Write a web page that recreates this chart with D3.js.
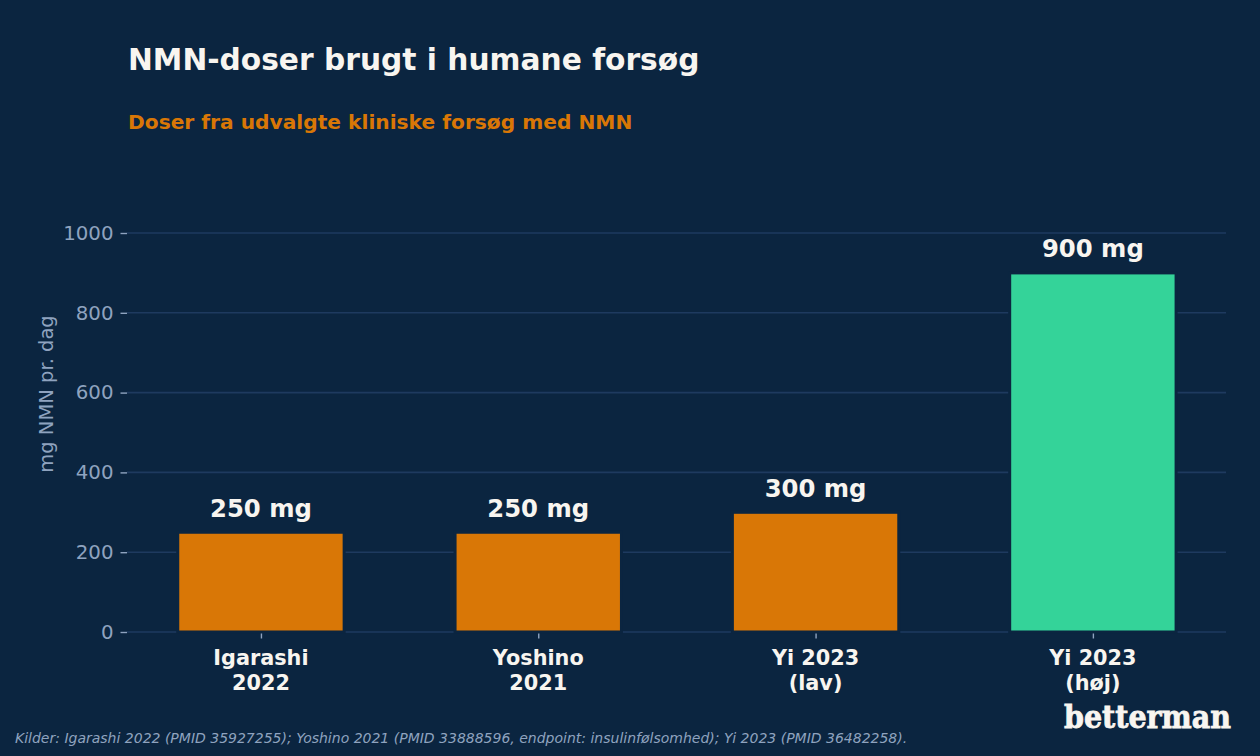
<!DOCTYPE html>
<html>
<head>
<meta charset="utf-8">
<script src="https://cdn.jsdelivr.net/npm/d3@7"></script>
<style>
  html, body { margin: 0; padding: 0; background: #0b2540; }
  svg { display: block; }
</style>
</head>
<body>
<svg id="chart" width="1260" height="756"></svg>
<script>
const categories = [["Igarashi", "2022"], ["Yoshino", "2021"], ["Yi 2023", "(lav)"], ["Yi 2023", "(høj)"]];
const values = [250, 250, 300, 900];
const valueLabels = ["250 mg", "250 mg", "300 mg", "900 mg"];
const highlight = [false, false, false, true];
const yTicks = [0, 200, 400, 600, 800, 1000];

const W = 1260, H = 756;
const bg = "#0b2540";
const svg = d3.select("#chart");
svg.append("rect").attr("width", W).attr("height", H).attr("fill", bg);

const x = d3.scaleLinear().domain([-0.483, 3.48]).range([127, 1226]);
const y = d3.scaleLinear().domain([0, 1000]).range([632, 233]);
const barW = 0.6;

// gridlines
svg.append("g").selectAll("line").data(yTicks).join("line")
  .attr("x1", 127).attr("x2", 1226)
  .attr("y1", d => y(d)).attr("y2", d => y(d))
  .attr("stroke", "#1e3a5f").attr("stroke-width", 1.6);

// y axis
const yAxis = d3.axisLeft(y).tickValues(yTicks).tickSize(6.5).tickPadding(7).tickFormat(d3.format("d"));
const gy = svg.append("g").attr("transform", "translate(127,0)").call(yAxis);
gy.select(".domain").remove();
gy.selectAll(".tick line").attr("stroke", "#8fa3bf").attr("stroke-width", 1.4);
gy.selectAll(".tick text").attr("fill", "#8fa3bf")
  .style("font-family", "DejaVu Sans").style("font-size", "19.8px");

// x axis ticks
const xAxis = d3.axisBottom(x).tickValues(d3.range(categories.length)).tickSize(6.5).tickFormat("");
const gx = svg.append("g").attr("transform", "translate(0,632)").call(xAxis);
gx.select(".domain").remove();
gx.selectAll(".tick line").attr("stroke", "#8fa3bf").attr("stroke-width", 1.4);

// bars
svg.append("g").selectAll("rect").data(values).join("rect")
  .attr("x", (d, i) => x(i - barW / 2))
  .attr("width", (d, i) => x(i + barW / 2) - x(i - barW / 2))
  .attr("y", d => y(d))
  .attr("height", d => y(0) - y(d))
  .attr("fill", (d, i) => highlight[i] ? "#34d399" : "#d97706")
  .attr("stroke", bg).attr("stroke-width", 3);

// value labels
svg.append("g").selectAll("text").data(values).join("text")
  .attr("x", (d, i) => x(i))
  .attr("y", d => y(d) - 15.5)
  .attr("text-anchor", "middle")
  .attr("fill", "#f8f5f0")
  .style("font-family", "DejaVu Sans").style("font-weight", "bold").style("font-size", "24.3px")
  .text((d, i) => valueLabels[i]);

// category labels
const cl = svg.append("g").selectAll("text").data(categories).join("text")
  .attr("text-anchor", "middle")
  .attr("fill", "#f8f5f0")
  .style("font-family", "DejaVu Sans").style("font-weight", "bold").style("font-size", "20.8px");
cl.each(function(d, i) {
  const t = d3.select(this);
  t.append("tspan").attr("x", x(i)).attr("y", 664.5).text(d[0]);
  t.append("tspan").attr("x", x(i)).attr("y", 690).text(d[1]);
});

// y axis label
svg.append("text")
  .attr("transform", "translate(52.5,394) rotate(-90)")
  .attr("text-anchor", "middle")
  .attr("fill", "#8fa3bf")
  .style("font-family", "DejaVu Sans").style("font-size", "19.5px")
  .text("mg NMN pr. dag");

// title & subtitle
svg.append("text").attr("x", 128).attr("y", 70)
  .attr("fill", "#f8f5f0")
  .style("font-family", "DejaVu Sans").style("font-weight", "bold").style("font-size", "29.7px")
  .text("NMN-doser brugt i humane forsøg");
svg.append("text").attr("x", 128).attr("y", 129)
  .attr("fill", "#d97706")
  .style("font-family", "DejaVu Sans").style("font-weight", "bold").style("font-size", "20.2px")
  .text("Doser fra udvalgte kliniske forsøg med NMN");

// footer
svg.append("text").attr("x", 15).attr("y", 743)
  .attr("fill", "#8fa3bf")
  .style("font-family", "DejaVu Sans").style("font-style", "italic").style("font-size", "14px")
  .text("Kilder: Igarashi 2022 (PMID 35927255); Yoshino 2021 (PMID 33888596, endpoint: insulinfølsomhed); Yi 2023 (PMID 36482258).");

// logo
svg.append("text").attr("x", 1231).attr("y", 728)
  .attr("text-anchor", "end")
  .attr("fill", "#f8f5f0")
  .attr("stroke", "#f8f5f0").attr("stroke-width", 0.8)
  .style("font-family", "DejaVu Serif").style("font-weight", "bold").style("font-size", "31px")
  .attr("textLength", 167).attr("lengthAdjust", "spacingAndGlyphs")
  .text("betterman");
</script>
</body>
</html>
